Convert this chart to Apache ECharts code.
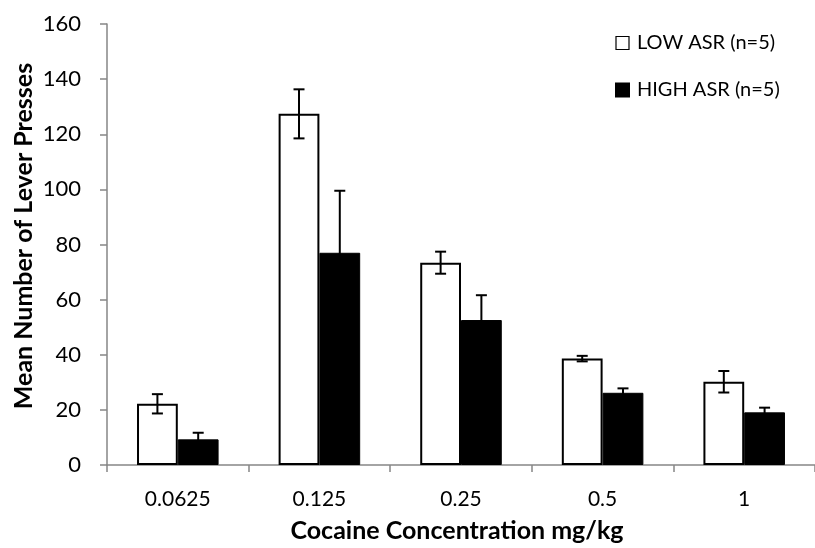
<!DOCTYPE html>
<html><head><meta charset="utf-8">
<script src="https://cdn.jsdelivr.net/npm/echarts@6/dist/echarts.min.js"></script>
<style>html,body{margin:0;padding:0;background:#fff}#c{width:815px;height:548px}</style>
</head><body><div id="c"></div>
<script>
var categories = ['0.0625', '0.125', '0.25', '0.5', '1'];
var lowMeans = [22.2, 127.4, 73.4, 38.6, 30.2];
var lowErr = [3.5, 8.9, 4.0, 1.0, 3.9];
var highMeans = [9.3, 77.0, 52.6, 26.2, 19.1];
var highErr = [2.4, 22.5, 9.0, 1.6, 1.7];
var yTicks = [0, 20, 40, 60, 80, 100, 120, 140, 160];

var FONT = 'Lato';
var chart = echarts.init(document.getElementById('c'), null, {renderer: 'canvas'});

function errSeries(means, errs, sign) {
  var data = means.map(function (m, i) { return [i, m, errs[i]]; });
  return {
    type: 'custom',
    z: 10,
    silent: true,
    data: data,
    renderItem: function (params, api) {
      var i = api.value(0), m = api.value(1), e = api.value(2);
      var band = api.size([1, 0])[0];
      var c = api.coord([i, m]);
      var x = c[0] + sign * band * 0.144;
      var top = api.coord([i, m + e])[1];
      var bot = api.coord([i, m - e])[1];
      var hw = 5.5;
      var st = {stroke: '#000', lineWidth: 2};
      return {type: 'group', children: [
        {type: 'line', shape: {x1: x, y1: top, x2: x, y2: bot}, style: st},
        {type: 'line', shape: {x1: x - hw, y1: top, x2: x + hw, y2: top}, style: st},
        {type: 'line', shape: {x1: x - hw, y1: bot, x2: x + hw, y2: bot}, style: st}
      ]};
    }
  };
}

chart.setOption({
  animation: false,
  backgroundColor: '#fff',
  grid: {left: 107, top: 24, width: 717, height: 441},
  legend: {
    orient: 'vertical', left: 610, top: 28, itemGap: 27, itemWidth: 13, itemHeight: 13,
    icon: 'rect',
    textStyle: {fontFamily: FONT, fontSize: 20, color: '#000', padding: [0, 0, 0, 3]},
    data: [
      {name: 'LOW ASR (n=5)', itemStyle: {color: '#fff', borderColor: '#000', borderWidth: 1.2}},
      {name: 'HIGH ASR (n=5)', itemStyle: {color: '#000'}}
    ]
  },
  xAxis: {
    type: 'category', data: categories,
    axisLine: {lineStyle: {color: '#868686', width: 1.5}},
    axisTick: {show: true, length: 7, lineStyle: {color: '#868686', width: 1.5}},
    axisLabel: {fontFamily: FONT, fontSize: 21, color: '#000', margin: 24}
  },
  yAxis: {
    type: 'value', min: 0, max: 160, interval: 20,
    splitLine: {show: false},
    axisLine: {show: true, lineStyle: {color: '#868686', width: 1.5}},
    axisTick: {show: true, length: 7, lineStyle: {color: '#868686', width: 1.5}},
    axisLabel: {fontFamily: FONT, fontSize: 22, color: '#000', margin: 26}
  },
  graphic: [
    {type: 'text', x: 457, y: 531, style: {text: 'Cocaine Concentration mg/kg', font: 'bold 25px ' + FONT, fill: '#000', align: 'center', verticalAlign: 'middle'}},
    {type: 'text', rotation: Math.PI / 2, x: 24, y: 236, style: {text: 'Mean Number of Lever Presses', font: 'bold 25px ' + FONT, fill: '#000', align: 'center', verticalAlign: 'middle'}}
  ],
  series: [
    {name: 'LOW ASR (n=5)', type: 'bar', data: lowMeans, barGap: 0, barCategoryGap: '42.4%',
      itemStyle: {color: '#fff', borderColor: '#000', borderWidth: 2}},
    {name: 'HIGH ASR (n=5)', type: 'bar', data: highMeans, barGap: 0, barCategoryGap: '42.4%',
      itemStyle: {color: '#000', borderColor: '#000', borderWidth: 1}},
    errSeries(lowMeans, lowErr, -1),
    errSeries(highMeans, highErr, 1)
  ]
});
</script></body></html>
